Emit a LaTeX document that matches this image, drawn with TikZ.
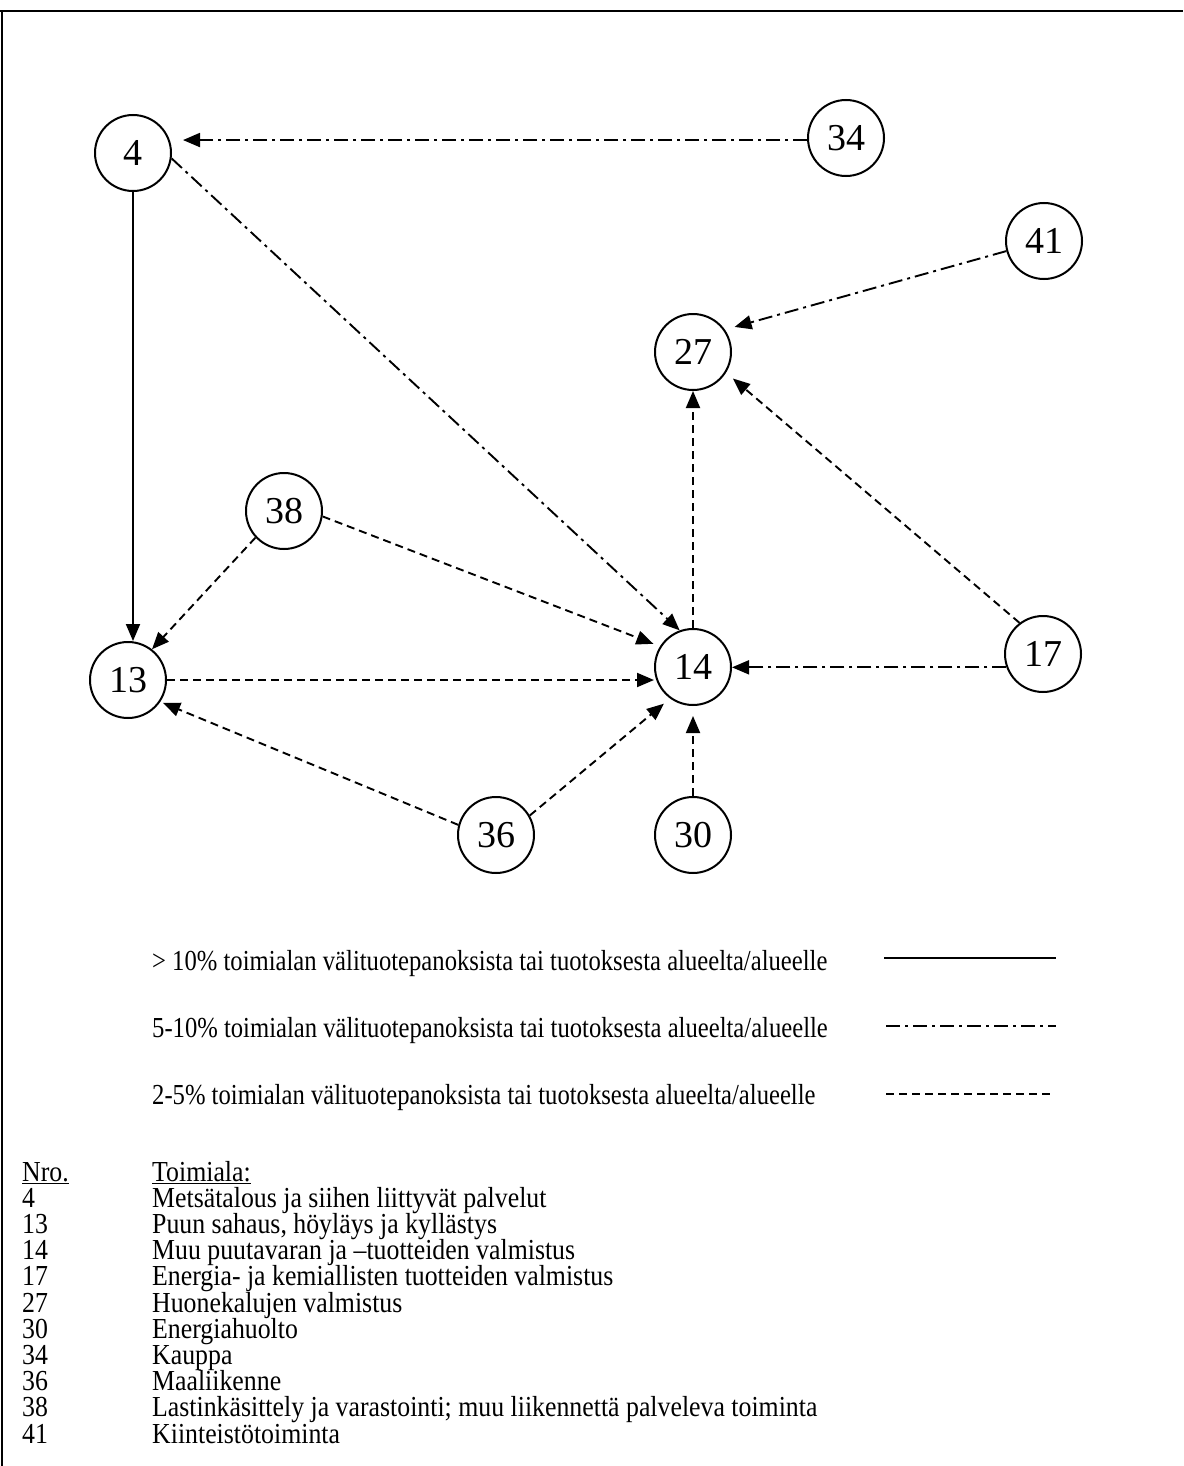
\documentclass[tikz,border=0pt]{standalone}
\usepackage{fontspec}
\setmainfont{Liberation Serif}
\newfontfamily\legfont[FakeStretch=0.85]{Liberation Serif}
\newfontfamily\tabfont[FakeStretch=0.89]{Liberation Serif}
\usetikzlibrary{arrows.meta}
\begin{document}
\begin{tikzpicture}[x=1pt,y=-1pt,
  nd/.style={circle,draw,line width=2pt,minimum size=76pt,inner sep=0pt,font=\fontsize{38}{40}\selectfont},
  conn/.style={line width=1.9pt,-{Triangle[length=17pt,width=14pt]}},
  solidc/.style={conn},
  dashdot/.style={conn,dash pattern=on 14pt off 5pt on 3pt off 5pt},
  dashc/.style={conn,dash pattern=on 8pt off 5pt},
  leg/.style={anchor=base west,inner sep=0pt,font=\legfont\fontsize{29}{31}\selectfont},
  tab/.style={anchor=base west,inner sep=0pt,font=\tabfont\fontsize{29}{31}\selectfont},
  frame/.style={line width=2pt}
]
\useasboundingbox (0,0) rectangle (1183,1466);
\coordinate (fr1) at (0,11);
\coordinate (fr2) at (1183,11);
\coordinate (fr3) at (2,11);
\coordinate (fr4) at (2,1466);
\draw[frame] (fr1) -- (fr2);
\draw[frame] (fr3) -- (fr4);

\node[nd] (n4)  at (133,153) {4};
\node[nd] (n34) at (846,138) {34};
\node[nd] (n41) at (1044,241) {41};
\node[nd] (n27) at (693,352) {27};
\node[nd] (n38) at (284,511) {38};
\node[nd] (n13) at (128,680) {13};
\node[nd] (n14) at (693,667) {14};
\node[nd] (n17) at (1043,654) {17};
\node[nd] (n36) at (496,835) {36};
\node[nd] (n30) at (693,835) {30};

\draw[dashdot,shorten >=11pt] (n34.183) -- (n34.183 -| n4.east);
\draw[dashdot] (n4.-8) -- (n14.110);
\draw[solidc] (n4.south) -- (n4.south |- n13.north);
\draw[dashdot,shorten >=10pt] (n41.195) -- (n27.35);
\draw[dashc,shorten >=9pt] (n17.127) -- (n27.-32);
\draw[dashc] (n14) -- (n27);
\draw[dashc] (n38.223) -- (n13.52);
\draw[dashc,shorten >=7pt] (n38.-8) -- (n14.148);
\draw[dashc] (n13.east) -- (n13.east -| n14.west);
\draw[dashc,shorten >=3pt] (n36.165) -- (n13.-34);
\draw[dashc,shorten >=8pt] (n36.30) -- (n14.234);
\draw[dashc,shorten >=10pt] (n30) -- (n14);
\draw[dashdot] (n17.200) -- (n17.200 -| n14.east);

\node[leg] (l1) at (152,970) {> 10\% toimialan välituotepanoksista tai tuotoksesta alueelta/alueelle};
\node[leg] (l2) at (152,1037) {5-10\% toimialan välituotepanoksista tai tuotoksesta alueelta/alueelle};
\node[leg] (l3) at (152,1104) {2-5\% toimialan välituotepanoksista tai tuotoksesta alueelta/alueelle};
\coordinate (s1a) at (884,958);  \coordinate (s1b) at (1056,958);
\coordinate (s2a) at (886,1026); \coordinate (s2b) at (1056,1026);
\coordinate (s3a) at (886,1094); \coordinate (s3b) at (1050,1094);
\draw[line width=1.9pt] (s1a) -- (s1b);
\draw[line width=1.9pt,dash pattern=on 14pt off 5pt on 3pt off 5pt] (s2a) -- (s2b);
\draw[line width=1.9pt,dash pattern=on 8pt off 5pt] (s3a) -- (s3b);

\node[tab] (h1) at (22,1181) {\underline{Nro.}};
\node[tab] (h2) at (152,1181) {\underline{Toimiala:}};
\foreach \k/\n/\t in {1/4/{Metsätalous ja siihen liittyvät palvelut},
  2/13/{Puun sahaus, höyläys ja kyllästys},
  3/14/{Muu puutavaran ja –tuotteiden valmistus},
  4/17/{Energia- ja kemiallisten tuotteiden valmistus},
  5/27/{Huonekalujen valmistus},
  6/30/{Energiahuolto},
  7/34/{Kauppa},
  8/36/{Maaliikenne},
  9/38/{Lastinkäsittely ja varastointi; muu liikennettä palveleva toiminta},
  10/41/{Kiinteistötoiminta}}{
  \node[tab] (r\k n) at (22,1181+26.2*\k) {\n};
  \node[tab] (r\k t) at (152,1181+26.2*\k) {\t};
}
\end{tikzpicture}
\end{document}
